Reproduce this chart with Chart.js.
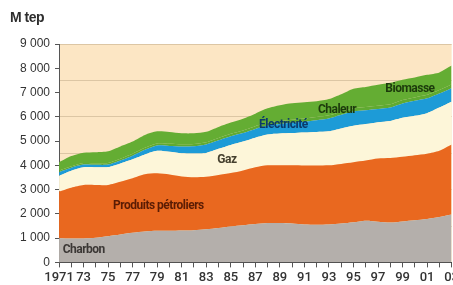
<!DOCTYPE html>
<html>
<head>
<meta charset="utf-8">
<script src="https://cdn.jsdelivr.net/npm/chart.js@4.4.1/dist/chart.umd.min.js"></script>
<style>
  html, body { margin: 0; padding: 0; background: #fff; overflow: hidden; }
  #wrap { width: 462px; height: 289px; }
</style>
</head>
<body>
<div id="wrap"><canvas id="graf_energie"></canvas></div>
<script>
// Années
var annees = [1971, 1972, 1973, 1974, 1975, 1976, 1977, 1978, 1979, 1980, 1981,
  1982, 1983, 1984, 1985, 1986, 1987, 1988, 1989, 1990, 1991, 1992, 1993, 1994,
  1995, 1996, 1997, 1998, 1999, 2000, 2001, 2002, 2003];

// Consommation par énergie (M tep)
var charbon = [1000, 990, 990, 1020, 1080, 1150, 1220, 1270, 1300, 1300, 1310,
  1330, 1370, 1420, 1480, 1530, 1580, 1620, 1620, 1600, 1560, 1550, 1560, 1600,
  1650, 1720, 1680, 1640, 1690, 1740, 1790, 1870, 1970];
var petrole = [1920, 2090, 2200, 2170, 2110, 2170, 2250, 2360, 2370, 2320, 2230,
  2180, 2160, 2180, 2200, 2260, 2340, 2380, 2380, 2400, 2430, 2440, 2440, 2460,
  2480, 2480, 2600, 2660, 2660, 2680, 2690, 2730, 2890];
var gaz = [650, 700, 730, 730, 740, 760, 780, 820, 930, 940, 960,
  980, 980, 1080, 1160, 1190, 1220, 1270, 1310, 1330, 1360, 1380, 1400, 1460,
  1500, 1500, 1500, 1530, 1610, 1620, 1670, 1780, 1760];
var electricite = [150, 120, 110, 100, 100, 120, 150, 190, 220, 240, 280,
  300, 350, 350, 360, 350, 360, 370, 390, 420, 450, 490, 530, 560,
  590, 570, 540, 550, 590, 620, 610, 580, 560];
var chaleur = [60, 60, 65, 65, 70, 70, 75, 80, 80, 85, 85,
  90, 95, 100, 105, 110, 115, 120, 125, 130, 130, 130, 130, 130,
  130, 135, 135, 135, 140, 140, 145, 145, 150];
var biomasse = [345, 420, 425, 455, 480, 510, 505, 530, 500, 485, 455,
  440, 425, 450, 455, 480, 515, 590, 655, 680, 670, 650, 670, 720,
  810, 825, 865, 885, 840, 820, 825, 725, 780];

// Graduations de l'axe vertical
var yMax = 9000;
var yPas = 500;

// Étiquettes dans les aires : [texte, année, valeur, couleur]
var etiquettes = [
  ['Charbon', 1971.3, 530, '#3b3735'],
  ['Produits pétroliers', 1975.4, 2330, '#5a1c04'],
  ['Gaz', 1983.9, 4220, '#45402e'],
  ['Électricité', 1987.3, 5650, '#0b3a6a'],
  ['Chaleur', 1992.1, 6280, '#1c3a0c'],
  ['Biomasse', 1997.6, 7140, '#1c3a0c']
];

function aire(label, data, couleur, fill) {
  return {
    label: label,
    data: data,
    fill: fill,
    backgroundColor: couleur,
    borderColor: couleur,
    borderWidth: 0,
    pointRadius: 0,
    tension: 0.25
  };
}

// fond pêche de la zone de tracé + titre de l'unité
var fondPlugin = {
  id: 'fond',
  beforeDraw: function (chart) {
    var a = chart.chartArea, c = chart.ctx;
    c.save();
    c.fillStyle = '#fce6c4';
    c.fillRect(a.left, a.top, a.right - a.left, a.bottom - a.top);
    c.fillStyle = '#2e2e2e';
    c.font = 'bold 14px "Liberation Sans", sans-serif';
    c.textBaseline = 'middle';
    c.letterSpacing = '-0.5px';
    c.fillText('M tep', 10, 18);
    c.restore();
  }
};

var etiquettesPlugin = {
  id: 'etiquettes',
  afterDatasetsDraw: function (chart) {
    var c = chart.ctx, x = chart.scales.x, y = chart.scales.y;
    c.save();
    c.font = 'bold 12px Roboto, sans-serif';
    c.letterSpacing = '-0.5px';
    c.textAlign = 'left';
    c.textBaseline = 'middle';
    etiquettes.forEach(function (e) {
      c.fillStyle = e[3];
      c.fillText(e[0], x.getPixelForValue(e[1] - annees[0]), y.getPixelForValue(e[2]));
    });
    c.restore();
  }
};

var ctx = document.getElementById('graf_energie').getContext('2d');

var graf = new Chart(ctx, {
  type: 'line',
  data: {
    labels: annees,
    datasets: [
      aire('Charbon', charbon, '#b4afab', 'origin'),
      aire('Produits pétroliers', petrole, '#e9681f', '-1'),
      aire('Gaz', gaz, '#fdf6d9', '-1'),
      aire('Électricité', electricite, '#1d9bd7', '-1'),
      aire('Chaleur', chaleur, '#60aa32', '-1'),
      aire('Biomasse', biomasse, '#64ad33', '-1')
    ]
  },
  options: {
    responsive: true,
    maintainAspectRatio: false,
    animation: false,
    layout: { padding: { left: 15, top: 44, right: 0, bottom: 0 } },
    plugins: {
      legend: { display: false },
      tooltip: { enabled: false }
    },
    scales: {
      x: {
        stacked: true,
        offset: false,
        grid: {
          drawOnChartArea: false,
          drawTicks: true,
          tickLength: 5,
          color: '#555'
        },
        border: { color: '#444', width: 1 },
        ticks: {
          autoSkip: false,
          maxRotation: 0,
          padding: 3,
          color: '#333',
          font: { family: 'Roboto, sans-serif', size: 13, weight: '500' },
          callback: function (val, i) {
            var an = annees[i];
            if (an % 2 === 0) return '';
            return i === 0 ? String(an) : String(an).slice(2);
          }
        }
      },
      y: {
        stacked: true,
        min: 0,
        max: yMax,
        grid: {
          tickLength: 4,
          color: function (c) {
            var v = c.tick.value;
            return (v > 0 && v % 1500 === 0) ? '#dcc6a4' : 'rgba(0,0,0,0)';
          },
          tickColor: function (c) {
            return c.tick.value % 1000 === 0 ? '#555' : 'rgba(0,0,0,0)';
          }
        },
        border: { color: '#555', width: 1 },
        ticks: {
          stepSize: yPas,
          autoSkip: false,
          padding: 5,
          color: '#333',
          font: { family: "'Liberation Sans', sans-serif", size: 12 },
          callback: function (v) {
            if (v % 1000 !== 0) return '';
            if (v === 0) return '0';
            return Math.floor(v / 1000) + ' 000';
          }
        }
      }
    }
  },
  plugins: [fondPlugin, etiquettesPlugin]
});
</script>
</body>
</html>
